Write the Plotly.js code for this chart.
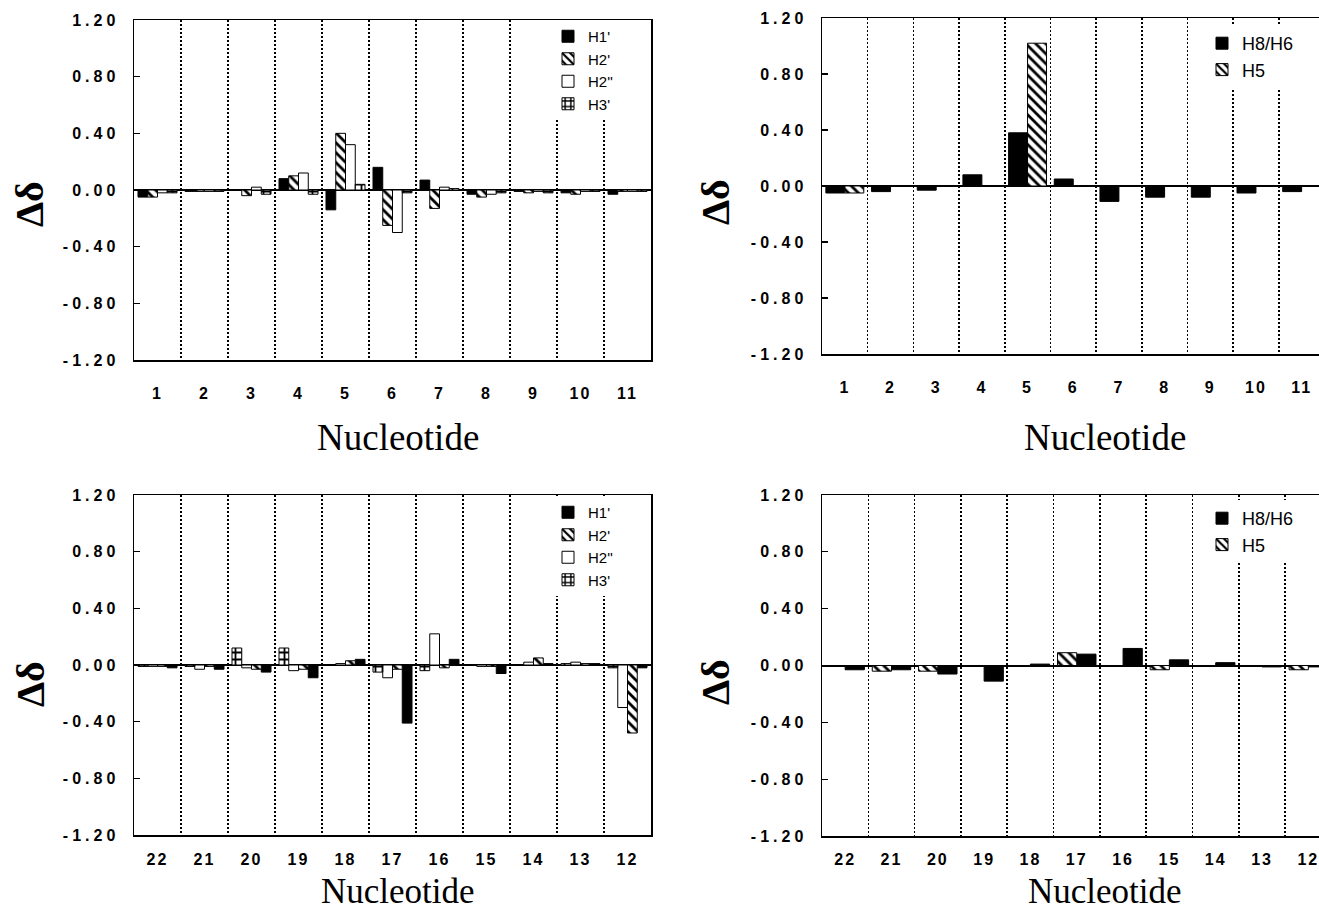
<!DOCTYPE html>
<html>
<head>
<meta charset="utf-8">
<script src="https://cdn.plot.ly/plotly-3.0.1.min.js"></script>
<style>
  html, body { margin: 0; padding: 0; background: #ffffff; }
  #chart { width: 1319px; height: 911px; }
  .xaxislayer-above text { letter-spacing: 2px; }
  .yaxislayer-above text { letter-spacing: 4px; }
  .legend2 .legendtext, .legend4 .legendtext { letter-spacing: 1.5px; }
</style>
</head>
<body>
<div id="chart"></div>
<script>
// Nucleotide labels, in the order they run along each strand's axis
const strandA = ['1', '2', '3', '4', '5', '6', '7', '8', '9', '10', '11'];
const strandB = ['22', '21', '20', '19', '18', '17', '16', '15', '14', '13', '12'];

// Sugar proton shift changes, strand 1-11
const sugarA_H1p  = [-0.05, -0.01,  0.00,  0.08, -0.14,  0.16,  0.07, -0.03, -0.01, -0.02, -0.03];
const sugarA_H2p  = [-0.05, -0.01, -0.04,  0.10,  0.40, -0.25, -0.13, -0.05, -0.02, -0.03, -0.01];
const sugarA_H2pp = [-0.02, -0.01,  0.02,  0.12,  0.32, -0.30,  0.02, -0.03, -0.01, -0.01, -0.01];
const sugarA_H3p  = [-0.02, -0.01, -0.03, -0.03,  0.04, -0.02,  0.01, -0.02, -0.02, -0.01, -0.01];

// Sugar proton shift changes, strand 22-12
const sugarB_H1p  = [-0.02, -0.03, -0.05, -0.09,  0.04, -0.41,  0.04, -0.06,  0.01,  0.01, -0.02];
const sugarB_H2p  = [-0.01, -0.01, -0.03, -0.03,  0.03, -0.03, -0.02, -0.01,  0.05,  0.01, -0.48];
const sugarB_H2pp = [-0.01, -0.03, -0.02, -0.04,  0.01, -0.09,  0.22, -0.01,  0.02,  0.02, -0.30];
const sugarB_H3p  = [-0.01, -0.01,  0.12,  0.12,  0.00, -0.05, -0.04,  0.00,  0.00,  0.01, -0.02];

// Base proton shift changes
const baseA_H8H6 = [-0.05, -0.04, -0.03,  0.08,  0.38,  0.05, -0.11, -0.08, -0.08, -0.05, -0.04];
const baseA_H5   = [-0.05,  0.00,  0.00,  0.00,  1.02,  0.00,  0.00,  0.00,  0.00,  0.00,  0.00];
const baseB_H8H6 = [-0.03, -0.03, -0.06, -0.11,  0.01,  0.08,  0.12,  0.04,  0.02, -0.01, -0.01];
const baseB_H5   = [ 0.00, -0.04, -0.04,  0.00,  0.00,  0.09,  0.00, -0.03,  0.00,  0.00, -0.03];

// Shared value axis
const yTickVals = [-1.2, -0.8, -0.4, 0, 0.4, 0.8, 1.2];
const yTickText = ['-1.20', '-0.80', '-0.40', '0.00', '0.40', '0.80', '1.20'];

const W = 1319, H = 911;
const px = v => v / W;
const py = v => 1 - v / H;

const solid  = { color: '#000000', line: { color: '#000000', width: 1 } };
const open   = { color: '#ffffff', line: { color: '#000000', width: 1 } };
const hatch  = { color: '#ffffff', line: { color: '#000000', width: 1 },
                 pattern: { shape: '\\', fgcolor: '#000000', bgcolor: '#ffffff', size: 7, solidity: 0.4 } };
const checks = { color: '#ffffff', line: { color: '#000000', width: 1 },
                 pattern: { shape: '+', fgcolor: '#000000', bgcolor: '#ffffff', size: 7, solidity: 0.45 } };

function bar(name, xs, ys, marker, xa, ya, legend) {
  return { type: 'bar', name: name, x: xs, y: ys, marker: marker,
           xaxis: xa, yaxis: ya, legend: legend, hoverinfo: 'x+y+name' };
}

const data = [
  bar("H1'",  strandA, sugarA_H1p,  solid,  'x',  'y',  'legend'),
  bar("H2'",  strandA, sugarA_H2p,  hatch,  'x',  'y',  'legend'),
  bar("H2''", strandA, sugarA_H2pp, open,   'x',  'y',  'legend'),
  bar("H3'",  strandA, sugarA_H3p,  checks, 'x',  'y',  'legend'),

  bar('H8/H6', strandA, baseA_H8H6, solid, 'x2', 'y2', 'legend2'),
  bar('H5',    strandA, baseA_H5,   hatch, 'x2', 'y2', 'legend2'),

  bar("H1'",  strandB, sugarB_H1p,  solid,  'x3', 'y3', 'legend3'),
  bar("H2'",  strandB, sugarB_H2p,  hatch,  'x3', 'y3', 'legend3'),
  bar("H2''", strandB, sugarB_H2pp, open,   'x3', 'y3', 'legend3'),
  bar("H3'",  strandB, sugarB_H3p,  checks, 'x3', 'y3', 'legend3'),

  bar('H8/H6', strandB, baseB_H8H6, solid, 'x4', 'y4', 'legend4'),
  bar('H5',    strandB, baseB_H5,   hatch, 'x4', 'y4', 'legend4')
];

const tickFont = { family: 'Liberation Sans, Arial, sans-serif', size: 16, weight: 'bold', color: '#000000' };

function xAxis(domain, anchor, cats, range, standoff) {
  return {
    domain: domain, anchor: anchor, type: 'category',
    categoryorder: 'array', categoryarray: cats, range: range,
    tickson: 'boundaries', ticks: '', tickangle: 0, showgrid: true,
    gridcolor: '#000000', gridwidth: 1.6, griddash: '2px,2px',
    showline: true, mirror: true, linecolor: '#000000', linewidth: 1.5,
    tickfont: tickFont, ticklabelstandoff: standoff, fixedrange: true
  };
}
function yAxis(domain, anchor, mirror) {
  return {
    domain: domain, anchor: anchor, range: [-1.2, 1.2],
    tickmode: 'array', tickvals: yTickVals, ticktext: yTickText,
    ticks: 'inside', ticklen: 6, tickwidth: 1.3, tickcolor: '#000000',
    showgrid: false, zeroline: true, zerolinecolor: '#000000', zerolinewidth: 2,
    showline: true, mirror: mirror, linecolor: '#000000', linewidth: 1.5,
    tickfont: tickFont, ticklabelstandoff: 10, fixedrange: true
  };
}

const leftX  = [px(134), px(651)];
const rightX = [px(822), 1];

// Strand 22-12 runs right-to-left in index space so grouped bars read in mirrored order
const strandBIndex = strandB.slice().reverse();

const legendBase = { bgcolor: '#ffffff', borderwidth: 0, xanchor: 'left', yanchor: 'top',
                     traceorder: 'normal', itemclick: false, itemdoubleclick: false };
const sugarLegendFont = { family: 'Liberation Sans, Arial, sans-serif', size: 15, color: '#000000' };
const baseLegendFont  = { family: 'Liberation Sans, Arial, sans-serif', size: 18, color: '#000000' };

const serifFont = { family: 'Liberation Serif, Times New Roman, serif', size: 37, color: '#000000' };
const serifFontLow = { family: 'Liberation Serif, Times New Roman, serif', size: 35, color: '#000000' };
const deltaFont = { family: 'Liberation Serif, Times New Roman, serif', size: 40, weight: 'bold', color: '#000000' };
function note(text, x, y, angle, font) {
  return { text: text, xref: 'paper', yref: 'paper', x: px(x), y: py(y),
           xanchor: 'center', yanchor: 'middle', showarrow: false,
           textangle: angle || 0, font: font };
}

const layout = {
  width: W, height: H,
  margin: { l: 0, r: 0, t: 0, b: 0 },
  paper_bgcolor: '#ffffff', plot_bgcolor: '#ffffff',
  barmode: 'group', bargap: 0.17, bargroupgap: 0,
  showlegend: true,
  xaxis:  xAxis(leftX,  'y',  strandA,      [-0.5, 10.5], 18),
  yaxis:  yAxis([py(360), py(20)],  'x',  true),
  xaxis2: xAxis(rightX, 'y2', strandA,      [-0.5, 10.38], 18),
  yaxis2: yAxis([py(354), py(18)],  'x2', false),
  xaxis3: xAxis(leftX,  'y3', strandBIndex, [10.5, -0.5], 9),
  yaxis3: yAxis([py(835), py(495)], 'x3', true),
  xaxis4: xAxis(rightX, 'y4', strandBIndex, [10.5, -0.23], 8),
  yaxis4: yAxis([py(836), py(495)], 'x4', false),
  legend:  Object.assign({}, legendBase, { x: px(548),  y: py(20),  font: sugarLegendFont }),
  legend2: Object.assign({}, legendBase, { x: px(1202), y: py(25),  font: baseLegendFont }),
  legend3: Object.assign({}, legendBase, { x: px(548),  y: py(496), font: sugarLegendFont }),
  legend4: Object.assign({}, legendBase, { x: px(1202), y: py(500), font: baseLegendFont }),
  annotations: [
    note('Nucleotide', 398, 437, 0, serifFont),
    note('Nucleotide', 1105, 437, 0, serifFont),
    note('Nucleotide', 398, 891, 0, serifFontLow),
    note('Nucleotide', 1105, 891, 0, serifFontLow),
    note('Δδ', 30, 204, -90, deltaFont),
    note('Δδ', 715, 202, -90, deltaFont),
    note('Δδ', 30, 684, -90, deltaFont),
    note('Δδ', 715, 682, -90, deltaFont)
  ]
};

Plotly.newPlot('chart', data, layout, { displayModeBar: false, staticPlot: true });
</script>
</body>
</html>
